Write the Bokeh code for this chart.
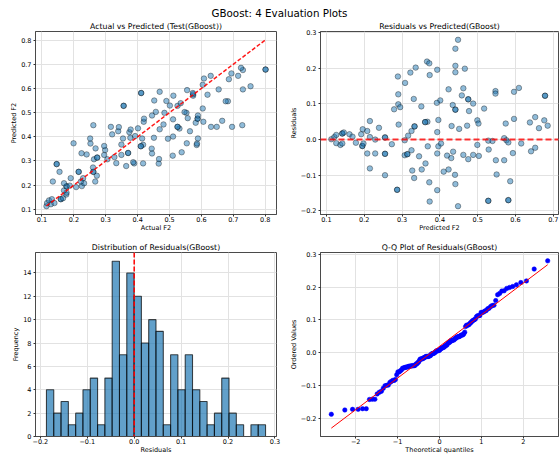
import math
import numpy as np
from bokeh.plotting import figure
from bokeh.layouts import column, row
from bokeh.models import Div, Span, Range1d, FixedTicker, CustomJSTickFormatter
from bokeh.embed import file_html
from bokeh.resources import INLINE

# ---------------- data ----------------
suptitle = "GBoost: 4 Evaluation Plots"
titles = ["Actual vs Predicted (Test(GBoost))", "Residuals vs Predicted(GBoost)",
          "Distribution of Residuals(GBoost)", "Q-Q Plot of Residuals(GBoost)"]

predicted = [
    0.448, 0.441, 0.441, 0.466, 0.441, 0.366, 0.372, 0.373, 0.336, 0.322,
    0.289, 0.308, 0.393, 0.423, 0.462, 0.458, 0.475, 0.475, 0.488, 0.434,
    0.441, 0.441, 0.477, 0.401, 0.392, 0.351, 0.331, 0.290, 0.290, 0.295,
    0.279, 0.517, 0.547, 0.547, 0.596, 0.609, 0.678, 0.678, 0.499, 0.502,
    0.472, 0.451, 0.431, 0.396, 0.367, 0.361, 0.361, 0.596, 0.574, 0.638,
    0.652, 0.662, 0.676, 0.685, 0.291, 0.333, 0.333, 0.325, 0.316, 0.393,
    0.307, 0.307, 0.314, 0.314, 0.325, 0.327, 0.332, 0.345, 0.352, 0.362,
    0.368, 0.372, 0.373, 0.393, 0.396, 0.403, 0.393, 0.410, 0.419, 0.423,
    0.430, 0.435, 0.440, 0.441, 0.448, 0.462, 0.475, 0.488, 0.499, 0.503,
    0.528, 0.529, 0.539, 0.548, 0.550, 0.528, 0.528, 0.581, 0.581, 0.570,
    0.570, 0.576, 0.581, 0.586, 0.593, 0.615, 0.641, 0.652,
    0.113, 0.121, 0.126, 0.126, 0.137, 0.142, 0.142, 0.142, 0.146, 0.161,
    0.169, 0.178, 0.192, 0.196, 0.195, 0.195, 0.198, 0.208, 0.215, 0.215,
    0.229, 0.239, 0.208, 0.215, 0.229, 0.255, 0.255, 0.255, 0.255, 0.255,
    0.273, 0.287, 0.287,
]

residuals = [
    0.280, 0.255, 0.207, 0.199, 0.189, 0.219, 0.214, 0.181, 0.202, 0.188,
    0.177, 0.159, 0.196, 0.141, 0.144, 0.124, 0.113, 0.113, 0.101, 0.097,
    0.084, 0.084, 0.080, 0.110, 0.103, 0.093, 0.114, 0.127, 0.099, 0.091,
    0.085, 0.087, 0.136, 0.129, 0.134, 0.145, 0.123, 0.123, 0.054, 0.045,
    0.039, 0.030, 0.038, 0.055, 0.050, 0.049, 0.049, 0.058, 0.045, 0.048,
    0.063, 0.032, 0.054, 0.039, 0.042, 0.037, 0.037, 0.024, 0.011, 0.021,
    -0.002, -0.044, -0.041, -0.041, -0.030, -0.087, -0.108, -0.047, -0.084, -0.067,
    -0.019, -0.120, -0.174, -0.039, -0.019, -0.011, -0.142, -0.090, -0.045, -0.084,
    -0.052, -0.034, -0.099, -0.125, -0.187, -0.043, -0.055, -0.043, -0.015, -0.046,
    -0.003, -0.028, -0.004, -0.058, -0.098, -0.172, -0.172, -0.170, -0.170, -0.058,
    0.004, -0.002, -0.008, -0.117, -0.038, -0.011, -0.033, -0.023,
    0.001, 0.007, 0.013, -0.010, -0.015, 0.017, 0.017, -0.011, 0.020, 0.015,
    0.008, -0.009, 0.015, 0.029, -0.018, -0.018, -0.011, 0.024, 0.052, 0.007,
    0.000, 0.033, -0.039, -0.081, -0.039, 0.006, 0.006, -0.040, -0.040, -0.100,
    -0.013, -0.141, -0.141,
]

hist_counts = [4, 2, 3, 1, 2, 4, 5, 1, 5, 15, 7, 14, 12, 8, 10, 9, 1, 7, 4, 7,
               4, 3, 1, 2, 5, 2, 1, 0, 1, 1]

ticks_p1 = [0.1, 0.2, 0.3, 0.4, 0.5, 0.6, 0.7, 0.8]
ticks_p2x = [0.1, 0.2, 0.3, 0.4, 0.5, 0.6, 0.7]
ticks_res = [-0.2, -0.1, 0.0, 0.1, 0.2, 0.3]
ticks_freq = [0, 2, 4, 6, 8, 10, 12, 14]
ticks_q = [-2, -1, 0, 1, 2]

# ---------------- derived ----------------
pred = np.array(predicted)
res = np.array(residuals)
actual = pred + res  # residual = actual - predicted

edges = np.linspace(res.min(), res.max(), len(hist_counts) + 1)

n = len(res)
m = (np.arange(1, n + 1) - 0.3175) / (n + 0.365)
m[-1] = 0.5 ** (1.0 / n)
m[0] = 1 - m[-1]


def norm_ppf(p):
    lo, hi = -10.0, 10.0
    for _ in range(80):
        mid = 0.5 * (lo + hi)
        if 0.5 * (1 + math.erf(mid / math.sqrt(2))) < p:
            lo = mid
        else:
            hi = mid
    return 0.5 * (lo + hi)


osm = np.array([norm_ppf(v) for v in m])
osr = np.sort(res)
slope, intercept = np.polyfit(osm, osr, 1)
qline_x = np.array([osm.min(), osm.max()])
qline_y = slope * qline_x + intercept


def pad(lo, hi, f=0.05):
    d = (hi - lo) * f
    return Range1d(lo - d, hi + d)


FONT = "DejaVu Sans"
fmt1 = CustomJSTickFormatter(code="return tick.toFixed(1).replace('-', '\u2212');")
fmt0 = CustomJSTickFormatter(code="return tick.toFixed(0).replace('-', '\u2212');")


def make_fig(title, w, h, bl, br, bt, bb, xr, yr, xt, yt, xl, yl, xf, yf):
    p = figure(width=w, height=h, x_range=xr, y_range=yr, title=title,
               output_backend="svg", toolbar_location=None,
               min_border_left=bl, min_border_right=br,
               min_border_top=bt, min_border_bottom=bb)
    p.title.align = "center"
    p.title.text_font = FONT
    p.title.text_font_size = "7.75px"
    p.title.text_font_style = "normal"
    p.title.text_color = "black"
    p.title.standoff = 2
    p.title.offset = 0
    p.outline_line_color = "#4a4a4a"
    p.outline_line_width = 1
    p.background_fill_color = "white"
    p.border_fill_color = "white"
    for ax, ticks, lab, f, mst, lst in ((p.xaxis[0], xt, xl, xf, 0, -1),
                                        (p.yaxis[0], yt, yl, yf, 2, 0)):
        ax.ticker = FixedTicker(ticks=ticks)
        ax.formatter = f
        ax.axis_label = lab
        ax.axis_label_text_font = FONT
        ax.axis_label_text_font_size = "6.5px"
        ax.axis_label_text_font_style = "normal"
        ax.axis_label_text_color = "black"
        ax.axis_label_standoff = lst
        ax.major_label_text_font = FONT
        ax.major_label_text_font_size = "6.5px"
        ax.major_label_text_color = "black"
        ax.major_label_standoff = mst
        ax.major_tick_out = 2
        ax.major_tick_in = 0
        ax.major_tick_line_color = "#333333"
        ax.minor_tick_out = 0
        ax.minor_tick_in = 0
        ax.axis_line_color = "#4a4a4a"
    p.grid.grid_line_color = "#e2e2e2"
    p.grid.grid_line_width = 1
    p.xgrid.ticker = FixedTicker(ticks=xt)
    p.ygrid.ticker = FixedTicker(ticks=yt)
    return p


W1, W2 = 286, 273
H1, H2 = 216, 222

# Panel 1: actual vs predicted
lo_a, hi_a = actual.min(), actual.max()
p1 = make_fig(titles[0], W1, H1, 35, 10, 12, 20,
              pad(lo_a, hi_a), pad(min(pred.min(), lo_a), max(pred.max(), hi_a)),
              ticks_p1, ticks_p1, "Actual F2", "Predicted F2", fmt1, fmt1)
p1.scatter(actual, pred, size=5.5, fill_color="#1f77b4", fill_alpha=0.5,
           line_color="black", line_alpha=0.5, line_width=0.7)
p1.line([lo_a, hi_a], [lo_a, hi_a], line_color="red", line_dash="4 2",
        line_width=1.5, line_alpha=0.9)

# Panel 2: residuals vs predicted
p2 = make_fig(titles[1], W2, H1, 31, 1, 12, 20,
              pad(pred.min(), pred.max()), pad(res.min(), res.max()),
              ticks_p2x, ticks_res, "Predicted F2", "Residuals", fmt1, fmt1)
p2.scatter(pred, res, size=5.5, fill_color="#1f77b4", fill_alpha=0.5,
           line_color="black", line_alpha=0.5, line_width=0.7)
p2.add_layout(Span(location=0, dimension="width", line_color="red",
                   line_dash="6 3", line_width=2, line_alpha=0.8))

# Panel 3: histogram
p3 = make_fig(titles[2], W1, H2, 35, 10, 18, 20,
              pad(edges[0], edges[-1]), Range1d(0, max(hist_counts) * 1.05),
              ticks_res, ticks_freq, "Residuals", "Frequency", fmt1, fmt0)
p3.quad(left=edges[:-1], right=edges[1:], bottom=0, top=hist_counts,
        fill_color="#1f77b4", fill_alpha=0.7, line_color="black",
        line_alpha=0.7, line_width=1.1)
p3.add_layout(Span(location=0, dimension="height", line_color="red",
                   line_dash="5 2", line_width=1.5))

# Panel 4: Q-Q plot
p4 = make_fig(titles[3], W2, H2, 31, 1, 18, 20,
              pad(osm.min(), osm.max()),
              pad(min(osr.min(), qline_y.min()), max(osr.max(), qline_y.max())),
              ticks_q, ticks_res, "Theoretical quantiles", "Ordered Values", fmt0, fmt1)
p4.scatter(osm, osr, size=4.5, fill_color="blue", line_color="blue", line_width=0.5)
p4.line(qline_x, qline_y, line_color="red", line_width=1)

header = Div(text='<div style="position:relative; top:3px">' + suptitle + '</div>',
             width=559, height=18, margin=(0, 0, 0, 0),
             styles={"font-family": FONT, "font-size": "10.3px",
                     "text-align": "center", "line-height": "20px",
                     "color": "black", "width": "559px"})

layout = column(header, row(p1, p2), row(p3, p4), spacing=0)

with open("out.html", "w") as fh:
    fh.write(file_html(layout, INLINE))
